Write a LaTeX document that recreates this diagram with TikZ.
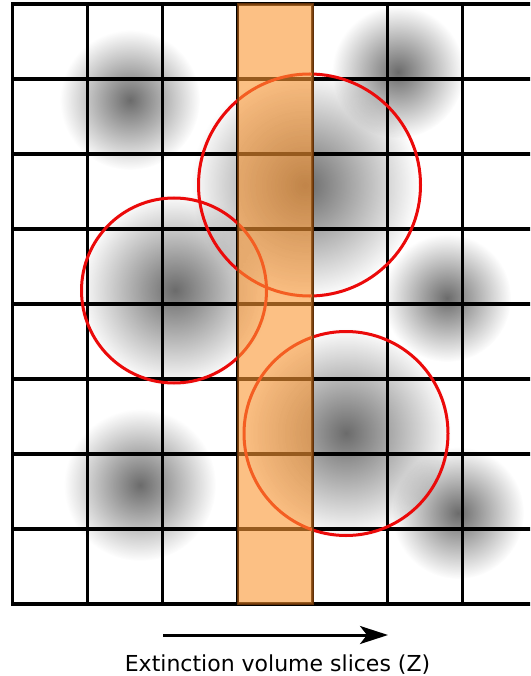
\documentclass[tikz,border=0pt]{standalone}
\usepackage{fontspec}
\setmainfont{DejaVu Sans}
\usetikzlibrary{arrows.meta,fadings}
\tikzfading[name=blobfade, inner color=transparent!0, outer color=transparent!100]
\definecolor{bandcol}{RGB}{250,150,50}
\definecolor{bandedge}{RGB}{120,60,10}
\definecolor{ringcol}{RGB}{235,10,10}
\begin{document}
\begin{tikzpicture}[x=1pt,y=-1pt,
  blob/.style={fill=black, fill opacity=0.58, path fading=blobfade},
  gridline/.style={line width=3.2pt, black},
  ring/.style={draw=ringcol, line width=3pt},
  slice/.style={fill=bandcol, fill opacity=0.6, draw=bandedge, draw opacity=0.8, line width=2pt},
  zarrow/.style={line width=3pt, -{Stealth[length=28pt,width=18pt,inset=7pt]}},
  caption/.style={font=\fontsize{22}{26}\selectfont, anchor=base, inner sep=0pt}]
\useasboundingbox (0,0) rectangle (530,676);
\begin{scope}
\clip (0,0) rectangle (530,676);
% gray density blobs
\foreach \cx/\cy/\r in {130/100/70, 398/72/66, 305/185/114, 175/290/96, 447/298/64, 346/433/105, 140/485/76, 458/513/66}
  \fill[blob] (\cx,\cy) circle[radius=\r];
% grid
\foreach \k in {0,...,7}
  \draw[gridline] (12.5+75*\k,4) -- (12.5+75*\k,604);
\foreach \k in {0,...,8}
  \draw[gridline] (11,4+75*\k) -- (540,4+75*\k);
% red circles
\draw[ring] (309.5,185) circle[radius=111];
\draw[ring] (174,290.5) circle[radius=92.5];
\draw[ring] (346,433.5) circle[radius=102];
% highlighted slice
\node[slice, inner sep=0pt, outer sep=0pt, minimum width=75pt, minimum height=600pt] (band) at (275,304) {};
\end{scope}
% direction arrow and caption
\coordinate (a1) at (163,635);
\coordinate (a2) at (388,635);
\draw[zarrow] (a1) -- (a2);
\node[caption] (cap) at (277.5,671) {Extinction volume slices (Z)};
\end{tikzpicture}
\end{document}
